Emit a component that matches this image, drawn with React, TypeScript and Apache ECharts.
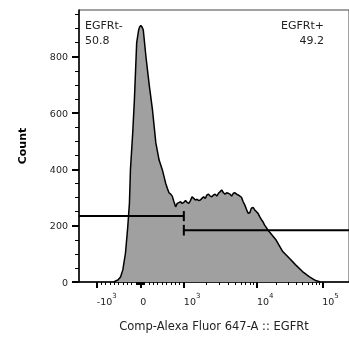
import React, { useEffect, useRef } from "react";
import * as echarts from "echarts";

// Histogram: x in display channels (biexponential display scale), y = count
const histX = [35, 39.3, 42, 44.3, 47, 49.3, 51, 52, 54.3, 56, 58.3, 60.3, 61.3, 62.5, 63.7, 65, 67.7, 71, 74.3, 77.7, 81, 84.3,
  86, 87.7, 89.3, 91, 92.7, 94.3, 96, 97.7, 99.3, 101, 102.7, 104.3, 106, 107.7, 109.3, 111, 112.7, 114.3, 116, 117.7, 119.3,
  121, 122.7, 124.3, 126, 127.7, 129.3, 131, 132.7, 134.3, 136, 137.7, 139.3, 141, 142.7, 144.3, 146, 147.7, 149.3, 151, 152.7,
  154.3, 156, 157.7, 159.3, 161, 162.7, 164.3, 166, 167.7, 169.3, 171, 172.7, 174.3, 176, 177.7, 179.3, 181, 182.7, 184.3, 186,
  187.7, 189.3, 191, 199.3, 206, 212.7, 219.3, 226, 232.7, 239.3, 244.3];
const histCount = [0, 7, 18, 43, 103, 196, 280, 398, 529, 646, 849, 895, 906, 911, 906, 895, 800, 700, 611, 494, 433, 398,
  374, 350, 333, 317, 312, 305, 285, 267, 279, 282, 285, 279, 283, 289, 283, 279, 289, 303, 297, 291, 294,
  289, 291, 297, 303, 297, 309, 312, 305, 303, 309, 312, 305, 315, 321, 327, 317, 312, 317, 315, 312,
  305, 315, 317, 312, 309, 305, 301, 285, 273, 258, 244, 246, 262, 265, 256, 250, 244, 232, 222, 214,
  202, 194, 185, 149, 108, 84, 60, 37, 19, 5, 0];

// Gates
const gateBoundary = 1000; // fluorescence value of the gate split
const gateNegCount = 234;
const gatePosCount = 184;
const gateNegName = "EGFRt-";
const gateNegPct = "50.8";
const gatePosName = "EGFRt+";
const gatePosPct = "49.2";

// Axes
const xMajorValues = [-1000, 0, 1000, 10000, 100000];
const xMajorLabels = ["{b|-10}{s|3}", "{b|0}", "{b|10}{s|3}", "{b|10}{s|4}", "{b|10}{s|5}"];
const xMinorValues = [-900, -800, -700, -600, -500, -400, -300, -200, -100,
  -90, -80, -70, -60, -50, -40, -30, -20, -10, 10, 20, 30, 40, 50, 60, 70, 80, 90,
  100, 200, 300, 400, 500, 600, 700, 800, 900,
  2000, 3000, 4000, 5000, 6000, 7000, 8000, 9000,
  20000, 30000, 40000, 50000, 60000, 70000, 80000, 90000];
const yMajorValues = [0, 200, 400, 600, 800];
const yMinorValues = [50, 100, 150, 250, 300, 350, 450, 500, 550, 650, 700, 750, 850, 900, 950];
const xTitle = "Comp-Alexa Fluor 647-A :: EGFRt";
const yTitle = "Count";

const X_MAX = 273;
const Y_MAX = 966;

// biexponential-like display transform (fluorescence -> display channel)
function T(v: number): number {
  if (Math.abs(v) <= 1000) return 62 + v * 0.044;
  if (v > 1000 && v <= 10000) return 106 + 74 * Math.log10(v / 1000);
  if (v > 10000) return 180 + 66 * Math.log10(v / 10000);
  return 18 - 74 * Math.log10(-v / 1000);
}

const FONT = "DejaVu Sans";

export default function App() {
  const ref = useRef<HTMLDivElement>(null);
  useEffect(() => {
    if (!ref.current) return;
    const chart = echarts.init(ref.current, null, { renderer: "svg" });
    const majorPos = xMajorValues.map(T);
    const gx = T(gateBoundary);
    const capNeg = 18;
    const capPos = 19;
    const lineStyle = { color: "#000", width: 2 };
    const gateSeries = (data: number[][]) => ({
      type: "line",
      data,
      showSymbol: false,
      symbol: "none",
      lineStyle,
      silent: true,
      z: 5,
      xAxisIndex: 0,
      yAxisIndex: 0,
    });
    chart.setOption({
      animation: false,
      grid: {
        left: 79,
        right: -3,
        top: 10,
        bottom: 58,
        show: true,
        borderColor: "#444",
        borderWidth: 1,
        containLabel: false,
      },
      xAxis: [
        {
          type: "value",
          min: 0,
          max: X_MAX,
          position: "bottom",
          splitLine: { show: false },
          axisLine: { show: true, lineStyle: { color: "#000", width: 1.5 } },
          axisTick: {
            show: true,
            customValues: majorPos,
            length: 6,
            lineStyle: { color: "#000", width: 2 },
          },
          axisLabel: {
            show: true,
            customValues: majorPos,
            align: "left",
            margin: 10,
            color: "#222",
            fontFamily: FONT,
            formatter: (val: number) => {
              const i = majorPos.findIndex((p) => Math.abs(p - val) < 1e-6);
              return i >= 0 ? xMajorLabels[i] : "";
            },
            rich: {
              b: { fontSize: 9.5, lineHeight: 14, verticalAlign: "bottom", color: "#222", fontFamily: FONT },
              s: { fontSize: 7, lineHeight: 9, verticalAlign: "top", color: "#222", fontFamily: FONT },
            },
          },
          name: xTitle,
          nameLocation: "middle",
          nameGap: 38,
          nameTextStyle: { fontSize: 11.5, color: "#222", fontFamily: FONT },
        },
        {
          type: "value",
          min: 0,
          max: X_MAX,
          position: "bottom",
          splitLine: { show: false },
          axisLine: { show: false },
          axisLabel: { show: false },
          axisTick: {
            show: true,
            customValues: xMinorValues.map(T),
            length: 3,
            lineStyle: { color: "#000", width: 1 },
          },
        },
      ],
      yAxis: [
        {
          type: "value",
          min: 0,
          max: Y_MAX,
          position: "left",
          splitLine: { show: false },
          axisLine: { show: true, lineStyle: { color: "#000", width: 1.5 } },
          axisTick: {
            show: true,
            customValues: yMajorValues,
            length: 7,
            lineStyle: { color: "#000", width: 2 },
          },
          axisLabel: {
            show: true,
            customValues: yMajorValues,
            margin: 11,
            fontSize: 9.5,
            color: "#222",
            fontFamily: FONT,
          },
          name: yTitle,
          nameLocation: "middle",
          nameGap: 51,
          nameTextStyle: { fontSize: 11, fontWeight: "bold", color: "#000", fontFamily: FONT },
        },
        {
          type: "value",
          min: 0,
          max: Y_MAX,
          position: "left",
          splitLine: { show: false },
          axisLine: { show: false },
          axisLabel: { show: false },
          axisTick: {
            show: true,
            customValues: yMinorValues,
            length: 4,
            lineStyle: { color: "#000", width: 1 },
          },
        },
      ],
      series: [
        {
          type: "line",
          data: histX.map((x, i) => [x, histCount[i]]),
          showSymbol: false,
          symbol: "none",
          lineStyle: { color: "#000", width: 1.5 },
          areaStyle: { color: "#a0a0a0", opacity: 1 },
          silent: true,
          z: 3,
        },
        gateSeries([[0, gateNegCount], [gx, gateNegCount]]),
        gateSeries([[gx, gateNegCount - capNeg], [gx, gateNegCount + capNeg]]),
        gateSeries([[gx, gatePosCount], [X_MAX, gatePosCount]]),
        gateSeries([[gx, gatePosCount - capPos], [gx, gatePosCount + capPos]]),
      ],
      graphic: [
        { type: "text", left: 85, top: 20, style: { text: gateNegName, fontSize: 11, fill: "#222", fontFamily: FONT } },
        { type: "text", left: 85, top: 35, style: { text: gateNegPct, fontSize: 11, fill: "#222", fontFamily: FONT } },
        { type: "text", right: 25, top: 20, style: { text: gatePosName, fontSize: 11, fill: "#222", fontFamily: FONT, align: "right" } },
        { type: "text", right: 25, top: 35, style: { text: gatePosPct, fontSize: 11, fill: "#222", fontFamily: FONT, align: "right" } },
      ],
    });
    return () => chart.dispose();
  }, []);
  return <div ref={ref} style={{ position: "fixed", left: 0, top: 0, width: 349, height: 340 }} />;
}
